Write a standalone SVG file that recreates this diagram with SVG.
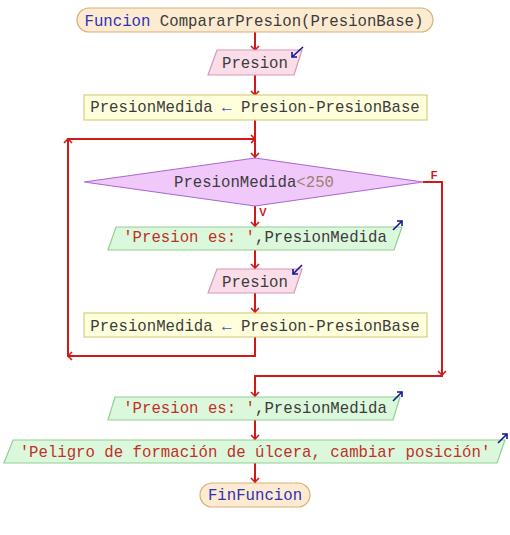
<svg xmlns="http://www.w3.org/2000/svg" width="510" height="535" viewBox="0 0 510 535">
<style>
text{font-family:"Liberation Mono","DejaVu Sans Mono",monospace;font-size:15.7px;fill:#3c3c3c;text-anchor:middle}
.kw{fill:#3030b8}
.str{fill:#c03028}
.num{fill:#a08070}
.op{fill:#5050c0}
.lbl{font-family:"Liberation Sans",Arial,sans-serif;font-size:11px;font-weight:bold;fill:#d01818;text-anchor:middle}
.term{fill:#fcebd0;stroke:#d8b078;stroke-width:1.2}
.in{fill:#fadde8;stroke:#d898b8;stroke-width:1.2}
.out{fill:#dcf8dc;stroke:#90d090;stroke-width:1.2}
.asg{fill:#ffffdc;stroke:#d4d080;stroke-width:1.2}
.dec{fill:#f0c8fa;stroke:#a868d0;stroke-width:1.2}
.icon{fill:none;stroke:#101890;stroke-width:1.6}
.ln{fill:none;stroke:#d41818;stroke-width:2}
.ah{fill:none;stroke:#d41818;stroke-width:1.6}
</style>
<defs>
<g id="ahd"><polyline class="ah" points="-4,-4 0,0 4,-4"/></g>
</defs>
<g id="connectors">
<line class="ln" x1="255" y1="32" x2="255" y2="50"/>
<use href="#ahd" x="255" y="50"/>
<line class="ln" x1="255" y1="75" x2="255" y2="95"/>
<use href="#ahd" x="255" y="95"/>
<line class="ln" x1="255" y1="120" x2="255" y2="158"/>
<use href="#ahd" x="255" y="157"/>
<polyline class="ln" points="255,337 255,356 68,356 68,139 255,139"/>
<polyline class="ah" points="72,352 68,356 72,360"/>
<polyline class="ah" points="64,143 68,139 72,143"/>
<polyline class="ah" points="251,135 255,139 251,143"/>
<line class="ln" x1="255" y1="206" x2="255" y2="227"/>
<use href="#ahd" x="255" y="226"/>
<line class="ln" x1="255" y1="250" x2="255" y2="269"/>
<use href="#ahd" x="255" y="268"/>
<line class="ln" x1="255" y1="293" x2="255" y2="313"/>
<use href="#ahd" x="255" y="312"/>
<polyline class="ln" points="423,182 442,182 442,376 255,376 255,397"/>
<use href="#ahd" x="442" y="375"/>
<use href="#ahd" x="255" y="396"/>
<line class="ln" x1="255" y1="420" x2="255" y2="440"/>
<use href="#ahd" x="255" y="439"/>
<line class="ln" x1="255" y1="463" x2="255" y2="483"/>
<use href="#ahd" x="255" y="482"/>
<text class="lbl" x="434" y="179">F</text>
<text class="lbl" x="263" y="216">V</text>
</g>
<g id="start">
<rect class="term" x="77" y="8" width="356" height="24" rx="12"/>
<text x="254" y="25.5"><tspan class="kw">Funcion</tspan> CompararPresion(PresionBase)</text>
</g>
<g id="read1">
<polygon class="in" points="217,50 302,50 294,75 208,75"/>
<text x="255" y="68">Presion</text>
<polyline class="icon" points="303,47 292,57"/>
<polyline class="icon" points="292,52 292,57 297,57"/>
</g>
<g id="assign1">
<rect class="asg" x="84" y="95" width="343" height="25"/>
<text x="255" y="112">PresionMedida <tspan class="op">←</tspan> Presion-PresionBase</text>
</g>
<g id="decision">
<polygon class="dec" points="84,182 255,158 423,182 255,206"/>
<text x="254" y="187">PresionMedida<tspan class="num">&lt;250</tspan></text>
</g>
<g id="write1">
<polygon class="out" points="116,227 402,227 394,250 108,250"/>
<text x="255" y="242"><tspan class="str">'Presion es: '</tspan>,PresionMedida</text>
<polyline class="icon" points="393,230 402,221"/>
<polyline class="icon" points="397,221 402,221 402,226"/>
</g>
<g id="read2">
<polygon class="in" points="217,269 302,269 294,293 208,293"/>
<text x="255" y="287">Presion</text>
<polyline class="icon" points="302,265 293,274"/>
<polyline class="icon" points="293,269 293,274 298,274"/>
</g>
<g id="assign2">
<rect class="asg" x="84" y="313" width="343" height="24"/>
<text x="255" y="331">PresionMedida <tspan class="op">←</tspan> Presion-PresionBase</text>
</g>
<g id="write2">
<polygon class="out" points="115,397 400,397 393,420 108,420"/>
<text x="255" y="413"><tspan class="str">'Presion es: '</tspan>,PresionMedida</text>
<polyline class="icon" points="393,401 402,392"/>
<polyline class="icon" points="397,392 402,392 402,397"/>
</g>
<g id="write3">
<polygon class="out" points="13,440 505,440 497,463 4,463"/>
<text x="255" y="457" class="str">'Peligro de formación de úlcera, cambiar posición'</text>
<polyline class="icon" points="498,443 507,434"/>
<polyline class="icon" points="502,434 507,434 507,439"/>
</g>
<g id="end">
<rect class="term" x="200" y="483" width="110" height="24" rx="12"/>
<text x="255" y="500" class="kw">FinFuncion</text>
</g>
</svg>
